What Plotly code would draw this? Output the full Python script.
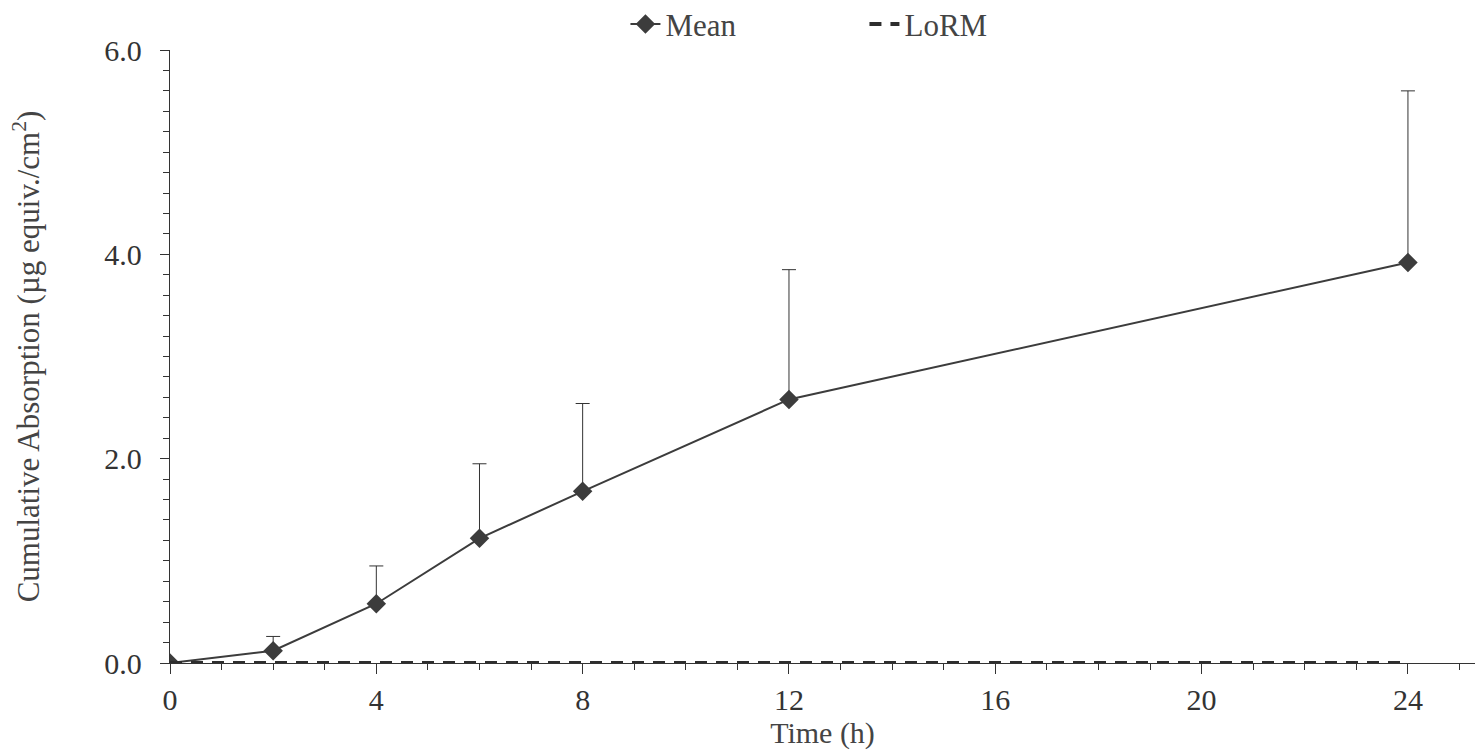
import plotly.graph_objects as go

time_h = [0, 2, 4, 6, 8, 12, 24]
mean_abs = [0.0, 0.12, 0.58, 1.22, 1.68, 2.58, 3.92]
err_plus = [0.0, 0.14, 0.37, 0.73, 0.86, 1.27, 1.68]
lorm_x = [0, 24]
lorm_y = [0.0, 0.0]

font_family = "Liberation Serif, Times New Roman, serif"
dark = "#3c3c3c"
fs = 30

fig = go.Figure()
fig.add_trace(go.Scatter(
    x=time_h, y=mean_abs, mode="lines+markers", name="Mean",
    line=dict(color=dark, width=2),
    marker=dict(symbol="diamond", size=15, color=dark),
    error_y=dict(type="data", symmetric=False, array=err_plus,
                 arrayminus=[0] * len(err_plus), color="#333333",
                 thickness=1, width=7),
))
fig.add_trace(go.Scatter(
    x=lorm_x, y=lorm_y, mode="lines", name="LoRM",
    line=dict(color="#2e2e2e", width=4, dash="12px,9px"),
))

fig.update_layout(
    width=1479, height=753,
    margin=dict(l=170, r=4, t=50, b=90, autoexpand=False),
    paper_bgcolor="white", plot_bgcolor="white",
    font=dict(family=font_family, size=fs, color="#333333"),
    showlegend=True,
    legend=dict(orientation="h", x=0.349, xanchor="left", y=1.042,
                yanchor="middle", font=dict(size=31, color="#444444"),
                bgcolor="rgba(0,0,0,0)", entrywidth=194, entrywidthmode="pixels"),
    xaxis=dict(
        range=[0, 25.3], tickmode="linear", tick0=0, dtick=4,
        showgrid=False, zeroline=False,
        showline=True, linecolor="#333333", linewidth=1.3,
        ticks="outside", ticklen=10, tickwidth=1.3, tickcolor="#333333",
        minor=dict(dtick=1, ticks="outside", ticklen=6, tickwidth=1.2,
                   tickcolor="#333333", showgrid=False),
        title=dict(text="Time (h)", standoff=0,
                   font=dict(size=fs, color="#444444")),
        tickfont=dict(size=fs, color="#333333"),
    ),
    yaxis=dict(
        range=[0, 6], tickmode="linear", tick0=0, dtick=2, tickformat=".1f",
        showgrid=False, zeroline=False,
        showline=True, linecolor="#333333", linewidth=1.3,
        ticks="outside", ticklen=9, tickwidth=1.3, tickcolor="#333333",
        minor=dict(dtick=0.2, ticks="outside", ticklen=6, tickwidth=1.2,
                   tickcolor="#333333", showgrid=False),
        ticklabelstandoff=12,
        title=dict(text="Cumulative Absorption (µg equiv./cm<sup>2</sup>)",
                   standoff=55, font=dict(size=31, color="#444444")),
        tickfont=dict(size=fs, color="#333333"),
    ),
)

fig.write_html("out.html")
